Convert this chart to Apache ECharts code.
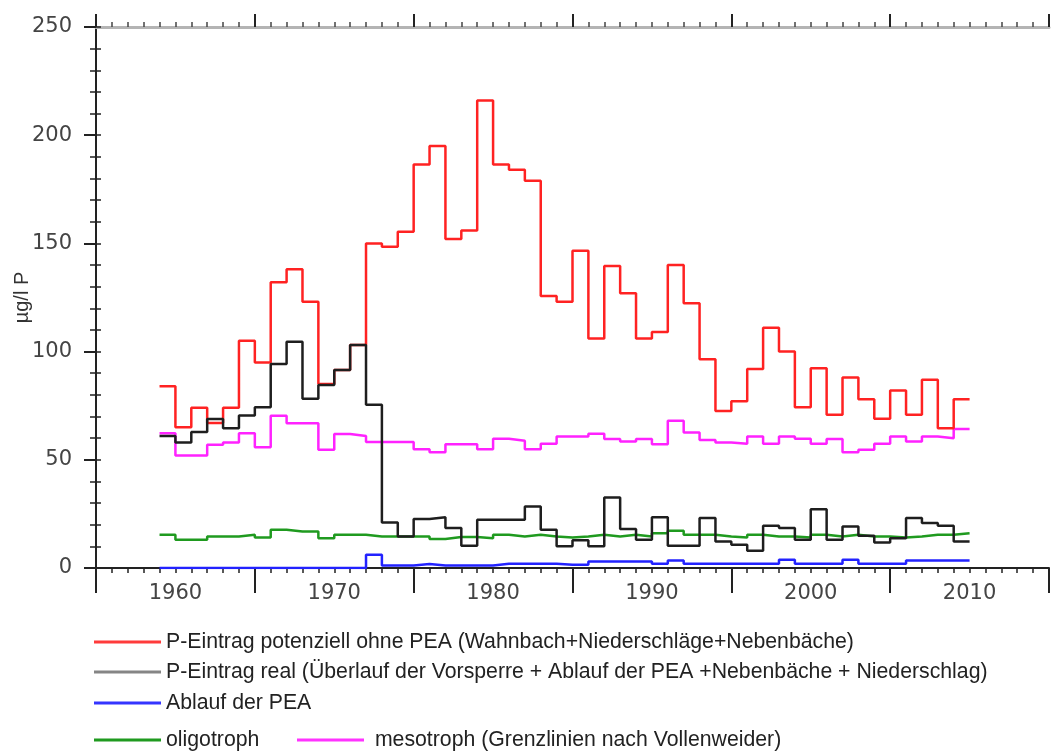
<!DOCTYPE html>
<html>
<head>
<meta charset="utf-8">
<script src="https://cdn.jsdelivr.net/npm/echarts@6/dist/echarts.min.js"></script>
<style>
  html, body { margin: 0; padding: 0; background: #fff; }
  #chart { width: 1054px; height: 751px; }
</style>
</head>
<body>
<div id="chart"></div>
<script>
// Years at which each annual step begins (step holds until the next year)
const years = [1959, 1960, 1961, 1962, 1963, 1964, 1965, 1966, 1967, 1968,
  1969, 1970, 1971, 1972, 1973, 1974, 1975, 1976, 1977, 1978,
  1979, 1980, 1981, 1982, 1983, 1984, 1985, 1986, 1987, 1988,
  1989, 1990, 1991, 1992, 1993, 1994, 1995, 1996, 1997, 1998,
  1999, 2000, 2001, 2002, 2003, 2004, 2005, 2006, 2007, 2008, 2009];
const endYear = 2010;

// µg/l P, P-Eintrag potenziell ohne PEA
const pPotenziell = [84, 65, 74, 67, 74, 105, 95, 132, 138, 123,
  85, 91.5, 103, 150, 148.5, 155.4, 186.5, 195, 152, 156,
  216, 186.5, 184, 179, 125.7, 123, 146.6, 106, 139.6, 127,
  106, 109, 140, 122.3, 96.5, 72.6, 77, 92, 111, 100,
  74.3, 92.3, 70.8, 88, 78, 69, 82, 70.8, 87, 64.6, 78];

// µg/l P, P-Eintrag real
const pReal = [61, 58, 62.8, 68.9, 64.6, 70.5, 74.3, 94.3, 104.6, 78.2,
  84.6, 91.5, 103, 75.4, 21, 14.6, 22.6, 23.5, 18.5, 10.3,
  22.3, 22.3, 22.3, 28.4, 17.7, 10, 12.8, 10, 32.6, 18,
  13.1, 23.5, 10.3, 10.3, 23.1, 12.3, 10.8, 8, 19.5, 18.5,
  13.1, 27.2, 13.1, 19.2, 14.9, 11.8, 13.8, 23.1, 20.8, 19.5, 12.3];

// µg/l P, Ablauf der PEA
const ablaufPEA = [0, 0, 0, 0, 0, 0, 0, 0, 0, 0,
  0, 0, 0, 6.1, 1.2, 1.2, 1.8, 1.2, 1.2, 1.2,
  1.2, 2, 2, 2, 2, 1.5, 1.5, 3, 3, 3,
  3, 2, 3.5, 2, 2, 2, 2, 2, 2, 3.8,
  2, 2, 2, 3.8, 2, 2, 2, 3.5, 3.5, 3.5, 3.5];

// µg/l P, Grenzlinie oligotroph
const oligotroph = [15.4, 13.1, 13.1, 14.6, 14.6, 15.4, 14.1, 17.7, 16.9, 16.9,
  13.8, 15.4, 15.4, 14.6, 14.6, 14.6, 14.6, 13.4, 14.3, 14.3,
  13.8, 15.4, 14.6, 15.4, 14.6, 14.1, 14.6, 15.4, 14.6, 15.4,
  14.6, 16.1, 17.2, 15.4, 15.4, 14.6, 14.1, 15.4, 14.6, 14.6,
  14.1, 15.4, 14.6, 15.4, 14.6, 14.6, 14.1, 14.6, 15.4, 15.4, 16.1];

// µg/l P, Grenzlinie mesotroph
const mesotroph = [62.3, 52, 52, 56.9, 58, 62.3, 55.8, 70.3, 66.9, 66.9,
  54.6, 61.9, 61, 58.2, 58.2, 58.2, 54.9, 53.5, 57.2, 57.2,
  54.9, 59.7, 58.8, 54.9, 57.4, 60.8, 60.8, 62, 59.6, 58.5,
  59.6, 57.2, 68, 62.6, 59.2, 58, 57.4, 60.8, 57.4, 60.8,
  59.7, 57.4, 59.6, 53.5, 54.6, 57.4, 60.8, 58.5, 60.8, 60, 64.2];

const xLabelYears = [1960, 1970, 1980, 1990, 2000, 2010];

const names = {
  potenziell: 'P-Eintrag potenziell ohne PEA (Wahnbach+Niederschläge+Nebenbäche)',
  real: 'P-Eintrag real (Überlauf der Vorsperre + Ablauf der PEA +Nebenbäche + Niederschlag)',
  ablauf: 'Ablauf der PEA',
  oligo: 'oligotroph',
  meso: 'mesotroph (Grenzlinien nach Vollenweider)'
};

// each value holds for one year; the closing point ends the last step
function steps(values) {
  const pts = years.map((y, i) => [y, values[i]]);
  pts.push([endYear, values[values.length - 1]]);
  return pts;
}

function stepSeries(name, values, color, z) {
  return {
    name: name,
    type: 'line',
    step: 'end',
    xAxisIndex: 0,
    yAxisIndex: 0,
    data: steps(values),
    showSymbol: false,
    symbol: 'none',
    color: color,
    lineStyle: { color: color, width: 2.5 },
    z: z,
    silent: true,
    animation: false
  };
}

const tickFont = 'DejaVu Sans';
const textFont = 'Liberation Sans';
const axisDark = '#222';

const legendCommon = {
  orient: 'horizontal',
  padding: 0,
  itemWidth: 67,
  itemHeight: 3,
  icon: 'rect',
  selectedMode: false,
  textStyle: { fontFamily: textFont, fontSize: 21.25, color: '#222', lineHeight: 21 }
};

const chart = echarts.init(document.getElementById('chart'), null, { renderer: 'canvas' });

chart.setOption({
  animation: false,
  backgroundColor: '#fff',
  grid: { left: 96, right: 5, top: 27, bottom: 183, containLabel: false, outerBoundsMode: 'none' },
  xAxis: [
    { // data axis with year labels
      type: 'value', min: 1955, max: 2015, interval: 5, position: 'bottom',
      axisLine: { show: true, lineStyle: { color: axisDark, width: 2 } },
      axisTick: { show: false },
      splitLine: { show: false },
      axisLabel: {
        margin: 15,
        fontFamily: tickFont, fontSize: 21, color: '#444',
        formatter: v => (xLabelYears.indexOf(v) >= 0 ? String(v) : '')
      }
    },
    { // bottom tick marks: long every ten years, short every year
      type: 'value', min: 0, max: 60, interval: 10, position: 'bottom',
      axisLine: { show: false },
      axisLabel: { show: false },
      splitLine: { show: false },
      axisTick: { show: true, length: 25, lineStyle: { color: axisDark, width: 2 } },
      minorTick: { show: true, splitNumber: 10, length: 5, lineStyle: { color: axisDark, width: 1.5 } }
    },
    { // top frame with ticks
      type: 'value', min: 0, max: 60, interval: 10, position: 'top',
      axisLine: { show: true, lineStyle: { color: '#b4b4b4', width: 3 } },
      axisLabel: { show: false },
      splitLine: { show: false },
      axisTick: { show: true, length: 13, lineStyle: { color: axisDark, width: 2 } },
      minorTick: { show: true, splitNumber: 10, length: 5, lineStyle: { color: '#444', width: 1.5 } }
    }
  ],
  yAxis: [
    {
      type: 'value', min: 0, max: 250, interval: 50, position: 'left',
      name: 'µg/l P', nameLocation: 'middle', nameRotate: 90, nameGap: 64,
      nameMoveOverlap: false,
      nameTextStyle: { fontFamily: textFont, fontSize: 20, color: '#333' },
      axisLine: { show: true, lineStyle: { color: axisDark, width: 2 } },
      axisTick: { show: true, length: 12, lineStyle: { color: axisDark, width: 2 } },
      minorTick: { show: true, splitNumber: 5, length: 6, lineStyle: { color: axisDark, width: 1.5 } },
      splitLine: { show: false },
      axisLabel: { margin: 24, fontFamily: tickFont, fontSize: 21, color: '#444' }
    },
    {
      type: 'value', min: 0, max: 250, interval: 50, position: 'right',
      axisLine: { show: true, lineStyle: { color: axisDark, width: 2 } },
      axisTick: { show: true, length: 5, lineStyle: { color: axisDark, width: 1.5 } },
      minorTick: { show: true, splitNumber: 5, length: 5, lineStyle: { color: axisDark, width: 1.5 } },
      splitLine: { show: false },
      axisLabel: { show: false }
    }
  ],
  legend: [
    Object.assign({ left: 94, top: 631.5, data: [{ name: names.potenziell, itemStyle: { color: '#ff3b3b' } }] }, legendCommon),
    Object.assign({ left: 94, top: 661.5, data: [{ name: names.real, itemStyle: { color: '#858585' } }] }, legendCommon),
    Object.assign({ left: 94, top: 692.5, data: [{ name: names.ablauf, itemStyle: { color: '#3535ff' } }] }, legendCommon),
    Object.assign({ left: 94, top: 729.5, data: [{ name: names.oligo, itemStyle: { color: '#1f9a1f' } }] }, legendCommon),
    Object.assign({ left: 297, top: 729.5, data: [{ name: names.meso, itemStyle: { color: '#ff33ff' } }], formatter: ' {name}' }, legendCommon)
  ],
  series: [
    stepSeries(names.oligo, oligotroph, '#1f9a1f', 2),
    stepSeries(names.meso, mesotroph, '#ff22ff', 3),
    stepSeries(names.ablauf, ablaufPEA, '#2222ff', 4),
    stepSeries(names.potenziell, pPotenziell, '#ff2222', 5),
    stepSeries(names.real, pReal, '#1e1e1e', 6)
  ]
});
</script>
</body>
</html>
